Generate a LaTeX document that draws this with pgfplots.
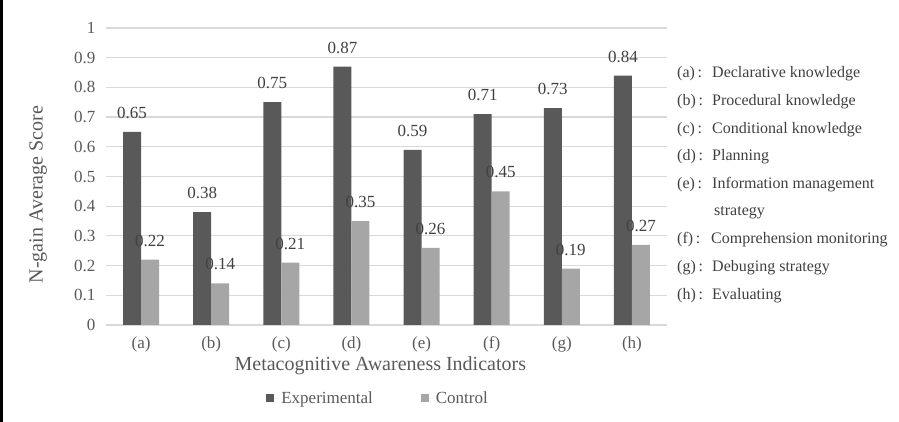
\documentclass[border=0pt]{standalone}
\usepackage{fontspec}
\setmainfont{Liberation Serif}
\usepackage{pgfplots}
\pgfplotsset{compat=1.18}
\definecolor{darkbar}{HTML}{595959}
\definecolor{lightbar}{HTML}{A6A6A6}
\definecolor{txt}{HTML}{595959}
\definecolor{lbl}{HTML}{404040}
\definecolor{gridc}{HTML}{D9D9D9}
\begin{document}
\begin{tikzpicture}[x=1pt,y=1pt]
\path[use as bounding box] (0,0) rectangle (899,422);
\fill[black] (0,0) rectangle (3,422);
\begin{axis}[
  at={(106pt,97pt)}, anchor=south west,
  scale only axis, width=561pt, height=297pt,
  ymin=0, ymax=1, xmin=-0.5, xmax=7.5,
  ybar=0pt, bar width=18pt,
  ytick={0,0.1,0.2,0.3,0.4,0.5,0.6,0.7,0.8,0.9,1},
  xtick={0,1,2,3,4,5,6,7},
  xticklabels={(a),(b),(c),(d),(e),(f),(g),(h)},
  /pgf/number format/assume math mode=true,
  ticklabel style={font=\fontsize{17}{20}\selectfont, color=txt},
  yticklabel style={xshift=-7pt},
  xticklabel style={yshift=-4pt},
  axis line style={draw=none},
  major tick style={draw=none},
  ymajorgrids, grid style={gridc, line width=1.2pt},
  xlabel={Metacognitive Awareness Indicators},
  ylabel={N-gain Average Score},
  label style={font=\fontsize{20}{24}\selectfont, color=txt},
  xlabel style={at={(axis description cs:0.489,0)}, anchor=center, yshift=-41pt},
  ylabel style={at={(axis description cs:-0.121,0.439)}, anchor=center},
  nodes near coords={\pgfmathprintnumber[fixed,precision=2,fixed zerofill,assume math mode=true]{\pgfplotspointmeta}},
  every node near coord/.append style={font=\fontsize{17}{20}\selectfont, color=lbl, anchor=center, yshift=19pt},
  legend columns=2,
  legend style={draw=none, fill=none, at={(axis description cs:0.485,-0.246)}, anchor=center,
    font=\fontsize{17}{20}\selectfont, text=txt,
    /tikz/every even column/.append style={column sep=46pt}},
  legend image code/.code={\fill[#1] (0pt,-4pt) rectangle (8pt,4pt); \path (0pt,0pt) -- (13pt,0pt);},
]
\addplot[fill=darkbar, draw=none] coordinates {(0,0.65) (1,0.38) (2,0.75) (3,0.87) (4,0.59) (5,0.71) (6,0.73) (7,0.84)};
\addplot[fill=lightbar, draw=none] coordinates {(0,0.22) (1,0.14) (2,0.21) (3,0.35) (4,0.26) (5,0.45) (6,0.19) (7,0.27)};
\legend{Experimental, Control}
\end{axis}
\begin{scope}[every node/.style={font=\fontsize{16}{19}\selectfont, text=lbl, anchor=west, inner sep=0pt}]
\node at (677,348) {(a)\,:}; \node at (712,348) {Declarative knowledge};
\node at (677,320) {(b)\,:}; \node at (712,320) {Procedural knowledge};
\node at (677,292) {(c)\,:}; \node at (712,292) {Conditional knowledge};
\node at (677,265) {(d)\,:}; \node at (712,265) {Planning};
\node at (677,237) {(e)\,:}; \node at (712,237) {Information management};
\node at (714,209) {strategy};
\node at (677,182) {(f)\,:}; \node at (711,182) {Comprehension monitoring};
\node at (677,154) {(g)\,:}; \node at (712,154) {Debuging strategy};
\node at (677,126) {(h)\,:}; \node at (712,126) {Evaluating};
\end{scope}
\end{tikzpicture}
\end{document}
